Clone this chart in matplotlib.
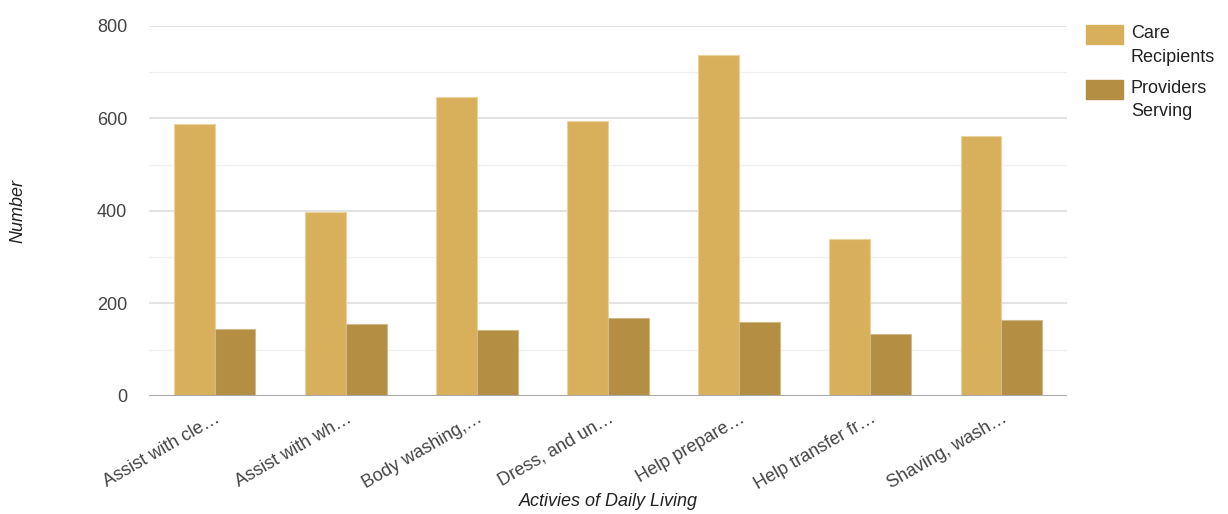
import matplotlib
matplotlib.use("Agg")
import matplotlib.pyplot as plt
import numpy as np
from matplotlib.patches import Rectangle

plt.rcParams['font.family'] = ['Liberation Sans', 'DejaVu Sans']

categories = [
    "Assist with cle\u2026",
    "Assist with wh\u2026",
    "Body washing,\u2026",
    "Dress, and un\u2026",
    "Help prepare\u2026",
    "Help transfer fr\u2026",
    "Shaving, wash\u2026",
]
care_recipients = [588, 397, 645, 594, 736, 339, 562]
providers_serving = [145, 156, 142, 169, 159, 134, 165]
series_names = ["Care\nRecipients", "Providers\nServing"]
y_ticks = [0, 200, 400, 600, 800]

care_color = "#D8B05C"
prov_color = "#B38E43"

W, H = 1228, 514
fig = plt.figure(figsize=(W / 100, H / 100), dpi=100)
ax = fig.add_axes([149.3 / W, 1 - 396 / H, (1066.7 - 149.3) / W, (396 - 25.7) / H])

x = np.arange(len(categories))
bw = 0.31
ax.bar(x - bw / 2, care_recipients, width=bw, color=care_color,
       edgecolor="#EBD3A0", linewidth=0.8, zorder=3)
ax.bar(x + bw / 2, providers_serving, width=bw, color=prov_color,
       edgecolor="#D2B98A", linewidth=0.8, zorder=3)

ax.set_xlim(-0.5, len(categories) - 0.5)
ax.set_ylim(0, 800)

# gridlines: major every 200, minor in between
for v in range(100, 801, 100):
    c = "#E3E3E3" if v % 200 == 0 else "#F0F0F0"
    ax.axhline(v, color=c, linewidth=1.4 if v % 200 == 0 else 1.0, zorder=1)
ax.axhline(0, color="#A8A8A8", linewidth=1.5, zorder=4)

for s in ax.spines.values():
    s.set_visible(False)

ax.set_yticks(y_ticks)
ax.set_yticklabels([str(v) for v in y_ticks], fontsize=13, color="#444444")
ax.tick_params(axis="y", length=0, pad=16)

ax.set_xticks(x)
ax.set_xticklabels(categories, rotation=30, ha="right", rotation_mode="anchor",
                   fontsize=13, color="#444444")
ax.tick_params(axis="x", length=0, pad=10)

fig.text(608 / W, 1 - 501 / H, "Activies of Daily Living", fontsize=13,
         style="italic", color="#222222", ha="center", va="center")
fig.text(18 / W, 1 - 211 / H, "Number", fontsize=13, style="italic",
         color="#222222", ha="center", va="center", rotation=90)

# legend
legend_rows = [(care_color, series_names[0], 25), (prov_color, series_names[1], 80)]
for col, name, ytop in legend_rows:
    fig.add_artist(Rectangle((1086 / W, 1 - (ytop + 18.5) / H), 37 / W, 18.5 / H,
                             transform=fig.transFigure, color=col))
    fig.text(1131 / W, 1 - ytop / H, name, fontsize=13, color="#222222",
             ha="left", va="top", linespacing=1.5)

fig.savefig("out.png", dpi=100, facecolor="white")
